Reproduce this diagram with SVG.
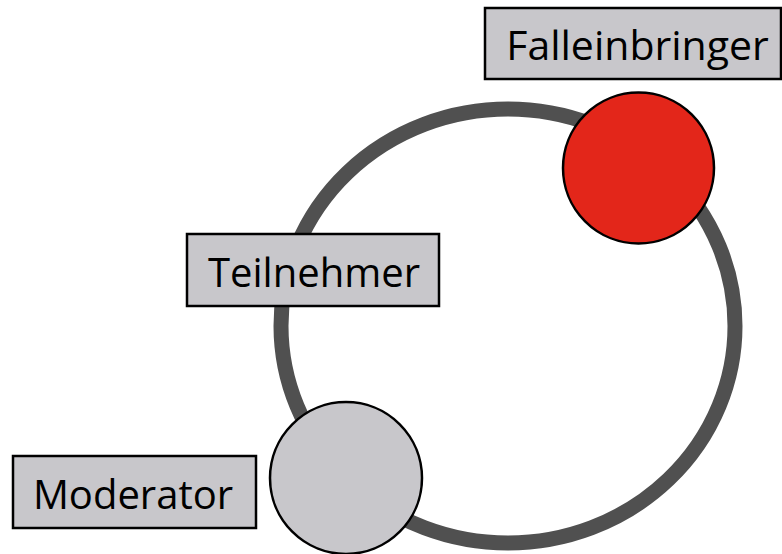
<svg xmlns="http://www.w3.org/2000/svg" width="782" height="554" viewBox="0 0 782 554">
<style>
.box{fill:#c8c7cb;stroke:#000;stroke-width:2.5}
.lbl{font-family:"Open Sans","Noto Sans",sans-serif;font-size:40px;fill:#000;text-anchor:middle}
.node{stroke:#000;stroke-width:2.5}
</style>
<rect width="782" height="554" fill="#fff"/>
<g id="connectors">
<ellipse cx="508" cy="326" rx="227" ry="217" fill="none" stroke="#505050" stroke-width="15"/>
</g>
<g id="falleinbringer">
<circle class="node" cx="638.5" cy="168" r="75.5" fill="#e3261a"/>
<rect class="box" x="485" y="8" width="296" height="71"/>
<text class="lbl" x="637.5" y="60" style="font-size:41px">Falleinbringer</text>
</g>
<g id="teilnehmer">
<rect class="box" x="187" y="234" width="252" height="72"/>
<text class="lbl" x="314" y="287">Teilnehmer</text>
</g>
<g id="moderator">
<circle class="node" cx="346" cy="478" r="76" fill="#c8c7cb"/>
<rect class="box" x="13" y="456" width="243" height="72"/>
<text class="lbl" x="133" y="509">Moderator</text>
</g>
</svg>
